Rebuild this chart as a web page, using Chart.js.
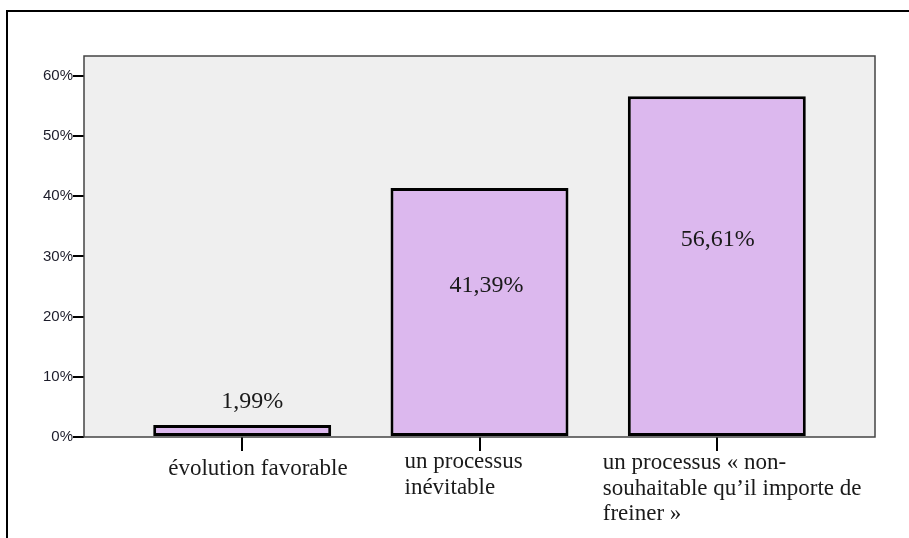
<!DOCTYPE html>
<html>
<head>
<meta charset="utf-8">
<script src="https://cdn.jsdelivr.net/npm/chart.js@4.4.1/dist/chart.umd.min.js"></script>
<style>
  html, body { margin: 0; padding: 0; background: #fff; overflow: hidden; }
  #wrap { position: relative; width: 909px; height: 538px; }
  #frame { position: absolute; left: 6px; top: 10px; right: -10px; bottom: -10px;
           border-top: 2.5px solid #000; border-left: 2.5px solid #000; pointer-events: none; }
  canvas { position: absolute; left: 0; top: 0; }
</style>
</head>
<body>
<div id="wrap">
  <canvas id="chart" width="909" height="538"></canvas>
  <div id="frame"></div>
</div>
<script>
// Response categories (each entry is the lines of its label)
const categories = [
  ['évolution favorable'],
  ['un processus', 'inévitable'],
  ['un processus « non-', 'souhaitable qu’il importe de', 'freiner »']
];
// Share of answers, in percent
const shares = [1.99, 41.39, 56.61];
// Value labels printed on the bars
const valueLabels = ['1,99%', '41,39%', '56,61%'];
// Y axis tick values
const yTicks = [0, 10, 20, 30, 40, 50, 60];

// Horizontal nudge of each value label from its bar centre
const valueLabelDx = [10, 7, 1];
// Label block placement relative to each category tick
const catLabelDx = [-74, -75, -114];
const catLabelDy = [38, 31, 32];

const serif = '"Liberation Serif", "Times New Roman", serif';

const plotFrame = {
  id: 'plotFrame',
  beforeDatasetsDraw(chart) {
    const { ctx, chartArea: a } = chart;
    ctx.save();
    ctx.fillStyle = '#efefef';
    ctx.fillRect(a.left, a.top, a.right - a.left, a.bottom - a.top);
    ctx.strokeStyle = '#444';
    ctx.lineWidth = 1.5;
    ctx.strokeRect(a.left, a.top, a.right - a.left, a.bottom - a.top);
    ctx.restore();
  },
  afterDatasetsDraw(chart) {
    const { ctx, chartArea: a } = chart;
    const meta = chart.getDatasetMeta(0);
    const xs = chart.scales.x;
    ctx.save();
    // values on the bars
    ctx.fillStyle = '#1a1a1a';
    ctx.font = '24px ' + serif;
    ctx.textAlign = 'center';
    ctx.textBaseline = 'middle';
    meta.data.forEach((bar, i) => {
      const top = bar.y, base = bar.base;
      const y = (base - top) > 80 ? (top + base) / 2 - 26 : top - 23;
      ctx.fillText(valueLabels[i], bar.x + valueLabelDx[i], y);
    });
    // category labels under the axis
    ctx.font = '23px ' + serif;
    ctx.textAlign = 'left';
    ctx.textBaseline = 'alphabetic';
    categories.forEach((lines, i) => {
      const x0 = xs.getPixelForValue(i) + catLabelDx[i];
      lines.forEach((line, j) => {
        ctx.fillText(line, x0, a.bottom + catLabelDy[i] + j * 25.5);
      });
    });
    ctx.restore();
  }
};

new Chart(document.getElementById('chart'), {
  type: 'bar',
  data: {
    datasets: [{
      data: shares.map((v, i) => ({ x: i, y: v })),
      backgroundColor: '#dcb8ee',
      borderColor: '#000',
      borderWidth: 3,
      borderSkipped: false,
      categoryPercentage: 1,
      barPercentage: 0.75
    }]
  },
  options: {
    responsive: false,
    animation: false,
    events: [],
    layout: { padding: { left: 0, right: 34, top: 56, bottom: 0 } },
    plugins: { legend: { display: false }, tooltip: { enabled: false } },
    scales: {
      x: {
        type: 'linear',
        min: -2 / 3,
        max: 2 + 2 / 3,
        offset: false,
        afterBuildTicks(scale) { scale.ticks = categories.map((c, i) => ({ value: i })); },
        afterFit(scale) { scale.height = 101; },
        border: { display: false },
        grid: { offset: false, drawOnChartArea: false, drawTicks: true, tickLength: 14, color: '#000', lineWidth: 2 },
        ticks: { display: false }
      },
      y: {
        min: 0,
        max: 63.3,
        afterBuildTicks(scale) { scale.ticks = yTicks.map(v => ({ value: v })); },
        afterFit(scale) { scale.width = 84; },
        border: { display: false },
        grid: { drawOnChartArea: false, drawTicks: true, tickLength: 11, color: '#000', lineWidth: 2 },
        ticks: {
          padding: 0,
          color: '#1c1c2a',
          font: { family: '"Liberation Sans", Arial, sans-serif', size: 15 },
          callback: v => v + '%'
        }
      }
    }
  },
  plugins: [plotFrame]
});
</script>
</body>
</html>
